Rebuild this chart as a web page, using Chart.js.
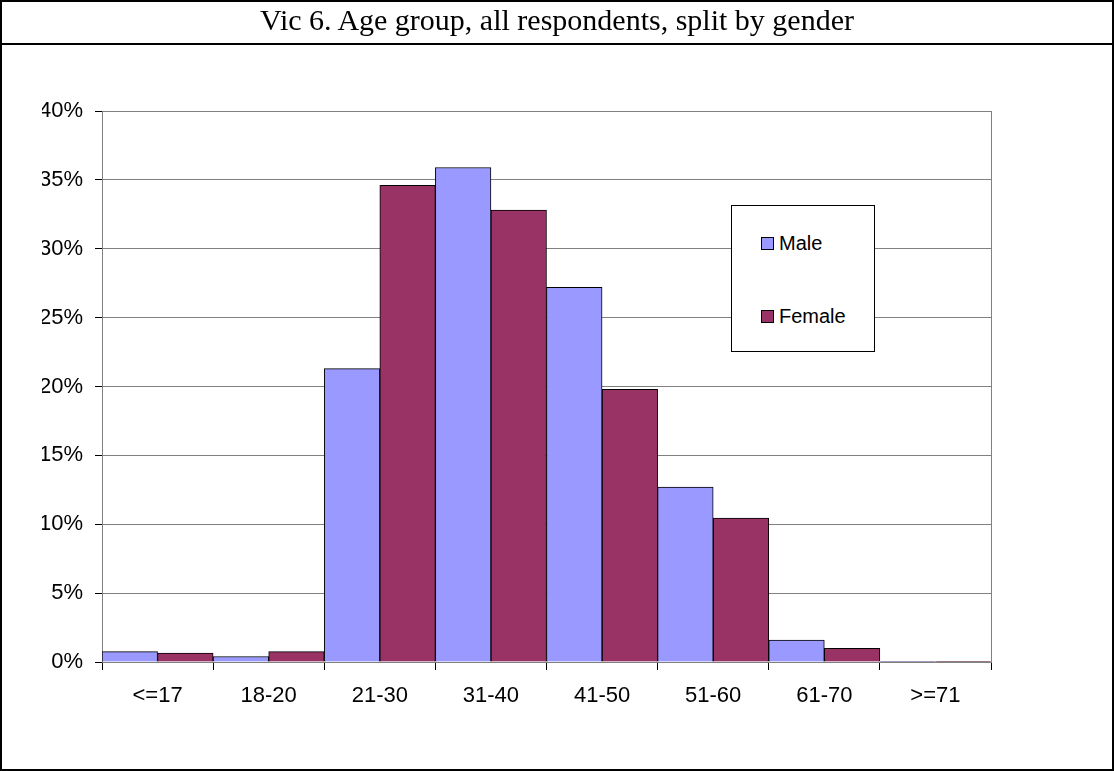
<!DOCTYPE html>
<html lang="en">
<head>
    <meta charset="UTF-8">
    <title>Vic 6. Age group, all respondents, split by gender</title>
    <script src="https://cdn.jsdelivr.net/npm/chart.js"></script>
    <style>
        body {
            margin: 0;
            padding: 0;
            background: white;
        }
        #frame {
            position: relative;
            width: 1114px;
            height: 771px;
            box-sizing: border-box;
            border: 2px solid black;
        }
        #title {
            position: absolute;
            left: 0;
            top: 0;
            width: 100%;
            height: 41px;
            border-bottom: 2px solid black;
            text-align: center;
            font-family: 'Liberation Serif', 'Times New Roman', serif;
            font-size: 30px;
            line-height: 36px;
            color: black;
        }
        #chartBox {
            position: absolute;
            left: -2px;
            top: -2px;
            width: 1114px;
            height: 771px;
        }
        #legend {
            position: absolute;
            left: 729px;
            top: 203px;
            width: 144px;
            height: 147px;
            border: 1px solid black;
            background: white;
            box-sizing: border-box;
            font-family: 'Liberation Sans', Arial, sans-serif;
            font-size: 20px;
            color: black;
        }
        .item {
            position: absolute;
            left: 29px;
            display: flex;
            align-items: center;
        }
        .swatch {
            width: 11px;
            height: 11px;
            border: 1px solid black;
            margin-right: 5px;
        }
    </style>
</head>
<body>
    <div id="frame">
        <div id="chartBox"><canvas id="barChart" width="1114" height="771"></canvas></div>
        <div id="title">Vic 6. Age group, all respondents, split by gender</div>
        <div id="legend"></div>
    </div>

    <script>
        // Data (percent)
        const ageGroups = ['<=17', '18-20', '21-30', '31-40', '41-50', '51-60', '61-70', '>=71'];
        const male = [0.75, 0.4, 21.3, 35.9, 27.2, 12.7, 1.6, 0.05];
        const female = [0.65, 0.75, 34.6, 32.8, 19.8, 10.45, 1.0, 0.05];
        const yTicks = [0, 5, 10, 15, 20, 25, 30, 35, 40];

        const axisFont = { family: "'Liberation Sans', Arial, sans-serif", size: 22 };

        // grey border round the plot area (right side shows)
        const plotBorder = {
            id: 'plotBorder',
            beforeDatasetsDraw(chart) {
                const a = chart.chartArea;
                const ctx = chart.ctx;
                ctx.save();
                ctx.strokeStyle = '#808080';
                ctx.lineWidth = 1;
                ctx.strokeRect(a.left + 0.5, a.top + 0.5, a.right - a.left, a.bottom - a.top);
                ctx.restore();
            }
        };

        const chart = new Chart(document.getElementById('barChart'), {
            type: 'bar',
            data: {
                labels: ageGroups,
                datasets: [{
                    label: 'Male',
                    data: male,
                    backgroundColor: '#9999FF',
                    borderColor: '#000000',
                    borderWidth: 1
                }, {
                    label: 'Female',
                    data: female,
                    backgroundColor: '#993366',
                    borderColor: '#000000',
                    borderWidth: 1
                }]
            },
            options: {
                responsive: false,
                animation: false,
                categoryPercentage: 1,
                barPercentage: 1,
                layout: {
                    padding: { left: 42, top: 111, right: 123, bottom: 49 }
                },
                plugins: {
                    legend: { display: false },
                    tooltip: { enabled: false }
                },
                scales: {
                    x: {
                        grid: {
                            offset: true,
                            drawOnChartArea: false,
                            tickLength: 8,
                            tickColor: '#000000'
                        },
                        border: { color: '#000000', width: 1 },
                        ticks: {
                            color: '#000000',
                            font: axisFont,
                            padding: 13,
                            maxRotation: 0
                        },
                        afterFit: (scale) => { scale.height = 60; }
                    },
                    y: {
                        min: 0,
                        max: 40,
                        afterBuildTicks: (scale) => {
                            scale.ticks = yTicks.map(v => ({ value: v }));
                        },
                        grid: {
                            color: '#808080',
                            tickLength: 7,
                            tickColor: '#000000'
                        },
                        border: { color: '#000000', width: 1 },
                        ticks: {
                            color: '#000000',
                            font: axisFont,
                            padding: 12,
                            callback: (v) => v + '%'
                        },
                        afterFit: (scale) => { scale.width = 60; }
                    }
                }
            },
            plugins: [plotBorder]
        });

        // legend box built from the chart's datasets
        const legend = document.getElementById('legend');
        const itemTops = [26, 99];
        chart.data.datasets.forEach((ds, i) => {
            const item = document.createElement('div');
            item.className = 'item';
            item.style.top = itemTops[i] + 'px';
            const sw = document.createElement('div');
            sw.className = 'swatch';
            sw.style.background = ds.backgroundColor;
            const txt = document.createElement('span');
            txt.textContent = ds.label;
            item.appendChild(sw);
            item.appendChild(txt);
            legend.appendChild(item);
        });
    </script>
</body>
</html>
